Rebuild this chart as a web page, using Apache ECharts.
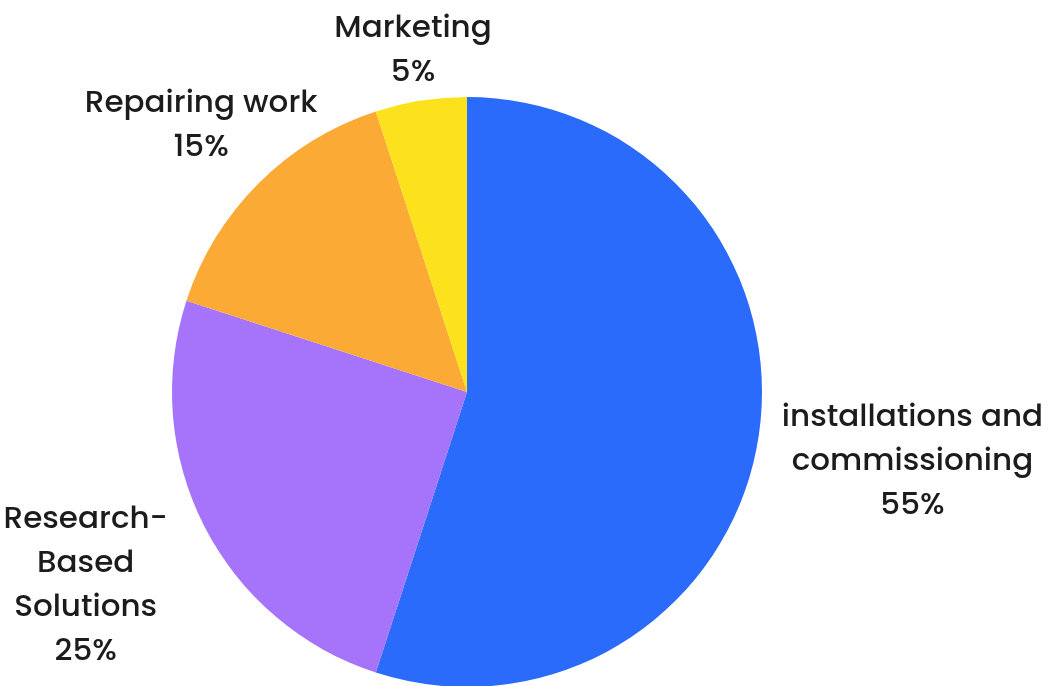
<!DOCTYPE html>
<html>
<head>
<meta charset="utf-8">
<title>Work breakdown</title>
<script src="https://cdn.jsdelivr.net/npm/echarts@6/dist/echarts.min.js"></script>
<style>
  html, body { margin: 0; padding: 0; background: #ffffff; }
  #chart { width: 1054px; height: 686px; }
</style>
</head>
<body>
<div id="chart"></div>
<script>
// Share of work by activity (percent), drawn clockwise from 12 o'clock
const categories = [
  'installations and\ncommissioning',
  'Research-\nBased\nSolutions',
  'Repairing work',
  'Marketing'
];
const shares = [55, 25, 15, 5];
const colors = ['#2a6bfb', '#a574fa', '#fbaa35', '#fce21c'];

// Pie geometry and how far out each label sits from the centre
const CX = 467, CY = 392, R = 295;
const labelDistance = [451, 428, 376, 345];

const total = shares.reduce((a, b) => a + b, 0);
const midAngles = [];
let acc = 0;
shares.forEach(v => {
  midAngles.push((acc + v / 2) / total * Math.PI * 2);
  acc += v;
});

const chart = echarts.init(document.getElementById('chart'), null, { renderer: 'canvas' });
chart.setOption({
  backgroundColor: '#ffffff',
  animation: false,
  series: [{
    type: 'pie',
    center: [CX, CY],
    radius: R,
    startAngle: 90,
    clockwise: true,
    data: categories.map((name, i) => ({
      name: name,
      value: shares[i],
      itemStyle: { color: colors[i] }
    })),
    label: {
      show: true,
      position: 'outside',
      formatter: '{b}\n{c}%',
      fontFamily: 'Poppins, "Open Sans", sans-serif',
      fontSize: 31,
      fontWeight: 500,
      lineHeight: 44,
      color: '#1c1c1c',
      align: 'center',
      overflow: 'none',
      width: 400
    },
    labelLine: { show: false },
    labelLayout: function (params) {
      const a = midAngles[params.dataIndex];
      const d = labelDistance[params.dataIndex];
      return {
        x: CX + d * Math.sin(a),
        y: CY - d * Math.cos(a),
        align: 'center',
        verticalAlign: 'middle'
      };
    },
    emphasis: { disabled: true }
  }]
});
</script>
</body>
</html>
